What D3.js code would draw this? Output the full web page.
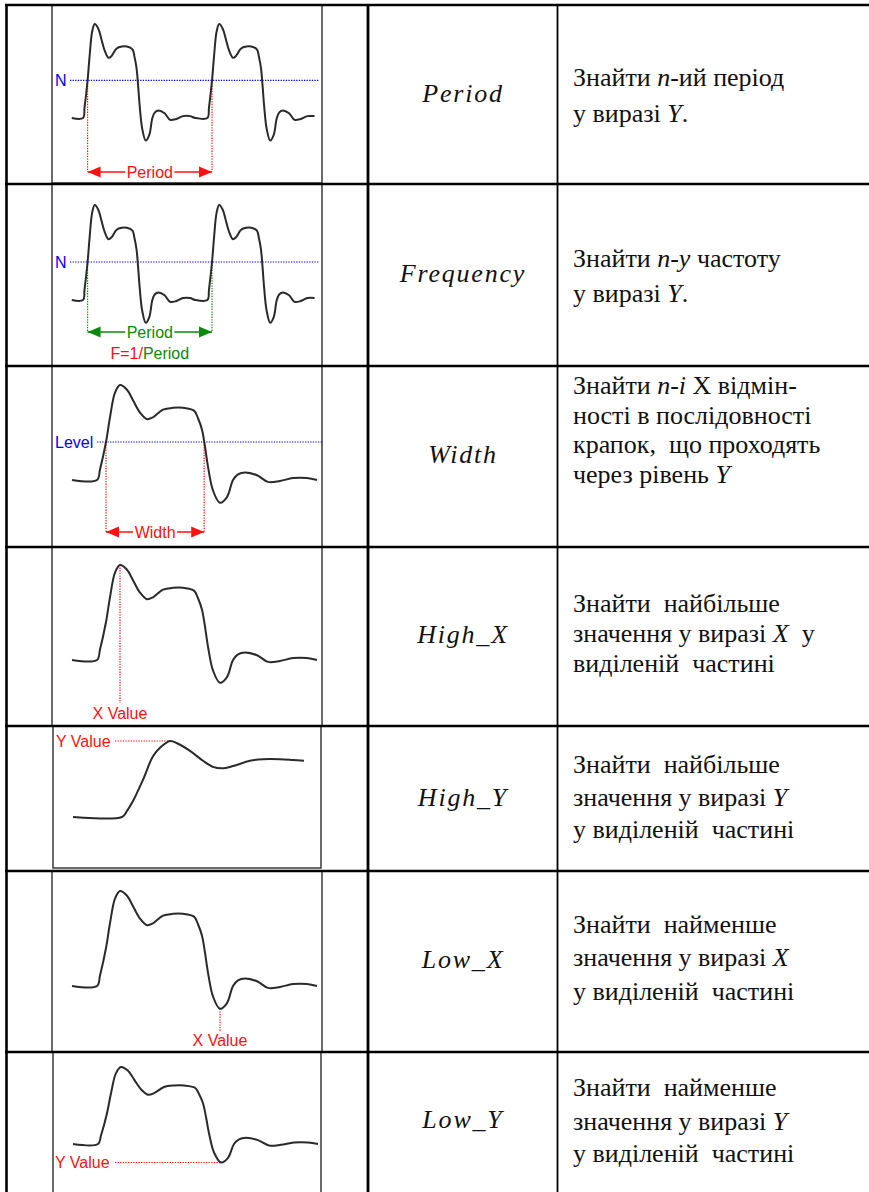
<!DOCTYPE html>
<html><head><meta charset="utf-8">
<script src="https://cdn.jsdelivr.net/npm/d3@7"></script>
<style>body{margin:0;background:#fff}svg{display:block}text{white-space:pre}</style>
</head><body>
<script>
// ---------------- DATA ----------------
const functionNames = ["Period", "Frequency", "Width", "High_X", "High_Y", "Low_X", "Low_Y"];

// description lines: [text, italic]
const descriptions = [
  [[["Знайти ", 0], ["n", 1], ["-ий період", 0]], [["у виразі ", 0], ["Y", 1], [".", 0]]],
  [[["Знайти ", 0], ["n-у", 1], [" частоту", 0]], [["у виразі ", 0], ["Y", 1], [".", 0]]],
  [[["Знайти ", 0], ["n-і", 1], [" X відмін-", 0]], [["ності в послідовності", 0]], [["крапок,  що проходять", 0]], [["через рівень ", 0], ["Y", 1]]],
  [[["Знайти  найбільше", 0]], [["значення у виразі ", 0], ["X", 1], ["  у", 0]], [["виділеній  частині", 0]]],
  [[["Знайти  найбільше", 0]], [["значення у виразі ", 0], ["Y", 1]], [["у виділеній  частині", 0]]],
  [[["Знайти  найменше", 0]], [["значення у виразі ", 0], ["X", 1]], [["у виділеній  частині", 0]]],
  [[["Знайти  найменше", 0]], [["значення у виразі ", 0], ["Y", 1]], [["у виділеній  частині", 0]]]
];

// one pulse of the waveform (time units, normalised amplitude)
const pulseT = [-2.5, 0.0, 0.3, 0.9, 1.3, 1.8, 2.3, 3.0, 3.6, 4.3, 5.0, 5.6, 6.6, 7.6, 8.6, 9.7, 10.1, 10.5, 10.8, 11.1, 11.6, 12.3, 13.0, 13.6, 14.1, 14.8, 16.0, 17.1, 18.3, 19.6, 21.0, 22.0];
const pulseV = [0, 0, 0.11, 0.40, 0.66, 0.92, 1.00, 0.95, 0.84, 0.71, 0.64, 0.66, 0.74, 0.76, 0.76, 0.73, 0.65, 0.53, 0.35, 0.14, -0.11, -0.24, -0.18, 0.00, 0.06, 0.08, 0.05, -0.02, -0.01, 0.02, 0.02, 0.00];

// step response (High_Y panel)
const stepT = [-4.9, 0, 0.5, 1.1, 2.1, 3.1, 3.8, 4.8, 5.5, 6.8, 8.1, 9.1, 10.0, 11.1, 12.8, 14.1, 15.8, 17.1, 18.2];
const stepV = [0, 0, 0.08, 0.21, 0.49, 0.80, 0.91, 1.00, 0.97, 0.87, 0.74, 0.66, 0.64, 0.67, 0.74, 0.76, 0.76, 0.75, 0.74];

const levelValue = 0.4;      // N / Level threshold
const periodLength = 24.4;   // time between pulses in the periodic panels

const annotationLabels = {period: "Period", freqPrefix: "F=1/", width: "Width", xValue: "X Value", yValue: "Y Value", n: "N", level: "Level"};

// ---------------- LAYOUT ----------------
const W = 869, H = 1192;
const svg = d3.select("body").append("svg").attr("width", W).attr("height", H);

const rowTops = [5, 184, 366, 547, 726, 871, 1052];
const boxes = [[52, 5, 322, 183], [52, 184, 322, 366], [52, 366, 322, 547], [52, 547, 322, 726], [53, 726, 321, 868], [52, 871, 322, 1052], [53, 1052, 321, 1200]];

const nameBaselines = [102, 282, 463, 643, 806, 968, 1128];
const descBaselines = [[86, 122], [267, 302], [394, 423.5, 453, 482.5], [612, 642, 672], [773, 806, 838], [933, 966, 1000], [1096, 1130, 1162]];

const RED = "#ff1010", BLUE = "#0000ff", GREEN = "#0a8a0a", WAVE = "#2a2a2a";
const sans = "'Liberation Sans', Arial, sans-serif";
const serif = "'Liberation Serif', 'Times New Roman', serif";

const pulse = pulseT.map((t, i) => ({t, v: pulseV[i]}));
const step = stepT.map((t, i) => ({t, v: stepV[i]}));

const panels = [
  {kind: "periodic", x0: 83, kx: 5.1, base: 118, ky: 94, t0: -2.2, tEnd: 45.9},
  {kind: "periodic", x0: 83, kx: 5.1, base: 300, ky: 95, t0: -2.2, tEnd: 45.9},
  {kind: "pulse", x0: 97, kx: 10, base: 480, ky: 95},
  {kind: "pulse", x0: 97, kx: 10, base: 660, ky: 95},
  {kind: "step", x0: 122, kx: 10, base: 817, ky: 76},
  {kind: "pulse", x0: 97, kx: 10, base: 986, ky: 95},
  {kind: "pulse", x0: 98, kx: 10, base: 1144, ky: 77}
];

// image boxes
boxes.forEach(b => {
  svg.append("rect").attr("x", b[0]).attr("y", b[1]).attr("width", b[2] - b[0]).attr("height", b[3] - b[1])
    .attr("fill", "#fff").attr("stroke", "#3a3a3a").attr("stroke-width", 1.5);
});

function crossing(data, level, from, dir) {
  for (let i = 0; i < data.length - 1; i++) {
    const a = data[i], b = data[i + 1];
    if (a.t < from) continue;
    if (dir > 0 && a.v < level && b.v >= level || dir < 0 && a.v > level && b.v <= level) {
      return a.t + (level - a.v) / (b.v - a.v) * (b.t - a.t);
    }
  }
  return null;
}

function dotted(g, x1, y1, x2, y2, color) {
  g.append("line").attr("x1", x1).attr("y1", y1).attr("x2", x2).attr("y2", y2)
    .attr("stroke", color).attr("stroke-width", 1.2).attr("stroke-dasharray", "1.3,1.3");
}

function label(g, x, y, txt, color, anchor) {
  return g.append("text").attr("x", x).attr("y", y).attr("fill", color).attr("font-family", sans)
    .attr("font-size", 16).attr("text-anchor", anchor || "start").text(txt);
}

function arrow(g, xa, xb, ya, txt, color) {
  g.append("line").attr("x1", xa).attr("x2", xb).attr("y1", ya).attr("y2", ya).attr("stroke", color).attr("stroke-width", 1.3);
  g.append("path").attr("d", `M${xa},${ya}L${xa + 13},${ya - 5.5}L${xa + 13},${ya + 5.5}Z`).attr("fill", color);
  g.append("path").attr("d", `M${xb},${ya}L${xb - 13},${ya - 5.5}L${xb - 13},${ya + 5.5}Z`).attr("fill", color);
  const cx = (xa + xb) / 2;
  const bg = g.append("rect").attr("fill", "#fff");
  const t = label(g, cx, ya + 5.5, txt, color, "middle");
  const w = t.node().getComputedTextLength();
  bg.attr("x", cx - w / 2 - 1.5).attr("y", ya - 3).attr("width", w + 3).attr("height", 6);
}

panels.forEach((p, r) => {
  const g = svg.append("g");
  const x = d3.scaleLinear().domain([0, 1]).range([p.x0, p.x0 + p.kx]);
  const y = d3.scaleLinear().domain([0, 1]).range([p.base, p.base - p.ky]);
  let data;
  if (p.kind === "periodic") {
    const core = pulse.filter(d => d.t >= 0);
    data = [{t: p.t0, v: 0}].concat(core,
      core.map(d => ({t: d.t + periodLength, v: d.v})).filter(d => d.t <= p.tEnd));
  } else if (p.kind === "pulse") data = pulse;
  else data = step;

  const line = d3.line().x(d => x(d.t)).y(d => y(d.v)).curve(d3.curveCatmullRom.alpha(0.5));

  if (r === 0 || r === 1) {
    const col = r === 0 ? RED : GREEN;
    const ly = y(levelValue);
    dotted(g, 70, ly, 319, ly, BLUE);
    label(g, 55, ly + 5.5, annotationLabels.n, BLUE);
    const tA = crossing(pulse, levelValue, 0, 1), tB = tA + periodLength;
    const ay = r === 0 ? 172 : 332;
    dotted(g, x(tA), ly, x(tA), ay, col);
    dotted(g, x(tB), ly, x(tB), ay, col);
    arrow(g, x(tA), x(tB), ay, annotationLabels.period, col);
    if (r === 1) {
      const t = g.append("text").attr("x", (x(tA) + x(tB)) / 2).attr("y", 359).attr("text-anchor", "middle")
        .attr("font-family", sans).attr("font-size", 16);
      t.append("tspan").attr("fill", RED).text(annotationLabels.freqPrefix);
      t.append("tspan").attr("fill", GREEN).text(annotationLabels.period);
    }
  }
  if (r === 2) {
    const ly = y(levelValue);
    dotted(g, 97, ly, 322, ly, BLUE);
    label(g, 55, ly + 5.5, annotationLabels.level, BLUE);
    const tA = crossing(pulse, levelValue, 0, 1), tB = crossing(pulse, levelValue, 5, -1);
    dotted(g, x(tA), ly, x(tA), 532, RED);
    dotted(g, x(tB), ly, x(tB), 532, RED);
    arrow(g, x(tA), x(tB), 532, annotationLabels.width, RED);
  }
  if (r === 3) {
    const pk = data.reduce((a, b) => b.v > a.v ? b : a);
    dotted(g, x(pk.t), y(pk.v), x(pk.t), 703, RED);
    label(g, x(pk.t), 719, annotationLabels.xValue, RED, "middle");
  }
  if (r === 4) {
    const pk = data.reduce((a, b) => b.v > a.v ? b : a);
    dotted(g, 115, y(pk.v), x(pk.t), y(pk.v), RED);
    label(g, 56, y(pk.v) + 5.5, annotationLabels.yValue, RED);
  }
  if (r === 5) {
    const lo = data.reduce((a, b) => b.v < a.v ? b : a);
    dotted(g, x(lo.t), y(lo.v), x(lo.t), 1031, RED);
    label(g, x(lo.t), 1046, annotationLabels.xValue, RED, "middle");
  }
  if (r === 6) {
    const lo = data.reduce((a, b) => b.v < a.v ? b : a);
    dotted(g, 115, y(lo.v), x(lo.t), y(lo.v), RED);
    label(g, 55, y(lo.v) + 5.5, annotationLabels.yValue, RED);
  }

  g.append("path").datum(data).attr("d", line).attr("fill", "none").attr("stroke", WAVE)
    .attr("stroke-width", 2).attr("stroke-linejoin", "round");
});

// function names (middle column)
functionNames.forEach((n, i) => {
  svg.append("text").attr("x", 463).attr("y", nameBaselines[i]).attr("text-anchor", "middle")
    .attr("font-family", serif).attr("font-style", "italic").attr("font-size", 26)
    .attr("letter-spacing", 1.8).attr("fill", "#111").text(n);
});

// descriptions (right column)
descriptions.forEach((lines, i) => {
  lines.forEach((segs, j) => {
    const t = svg.append("text").attr("x", 573).attr("y", descBaselines[i][j])
      .attr("font-family", serif).attr("font-size", 26).attr("fill", "#111");
    segs.forEach(s => t.append("tspan").attr("font-style", s[1] ? "italic" : "normal").text(s[0]));
  });
});

// table grid
const grid = svg.append("g").attr("stroke", "#000");
rowTops.forEach(yv => grid.append("line").attr("x1", 5).attr("x2", W).attr("y1", yv).attr("y2", yv).attr("stroke-width", 2.6));
grid.append("line").attr("x1", 6.5).attr("x2", 6.5).attr("y1", 4).attr("y2", H).attr("stroke-width", 2.6);
grid.append("line").attr("x1", 368).attr("x2", 368).attr("y1", 4).attr("y2", H).attr("stroke-width", 2.8);
grid.append("line").attr("x1", 557.5).attr("x2", 557.5).attr("y1", 4).attr("y2", H).attr("stroke-width", 1.8);
</script>
</body></html>
